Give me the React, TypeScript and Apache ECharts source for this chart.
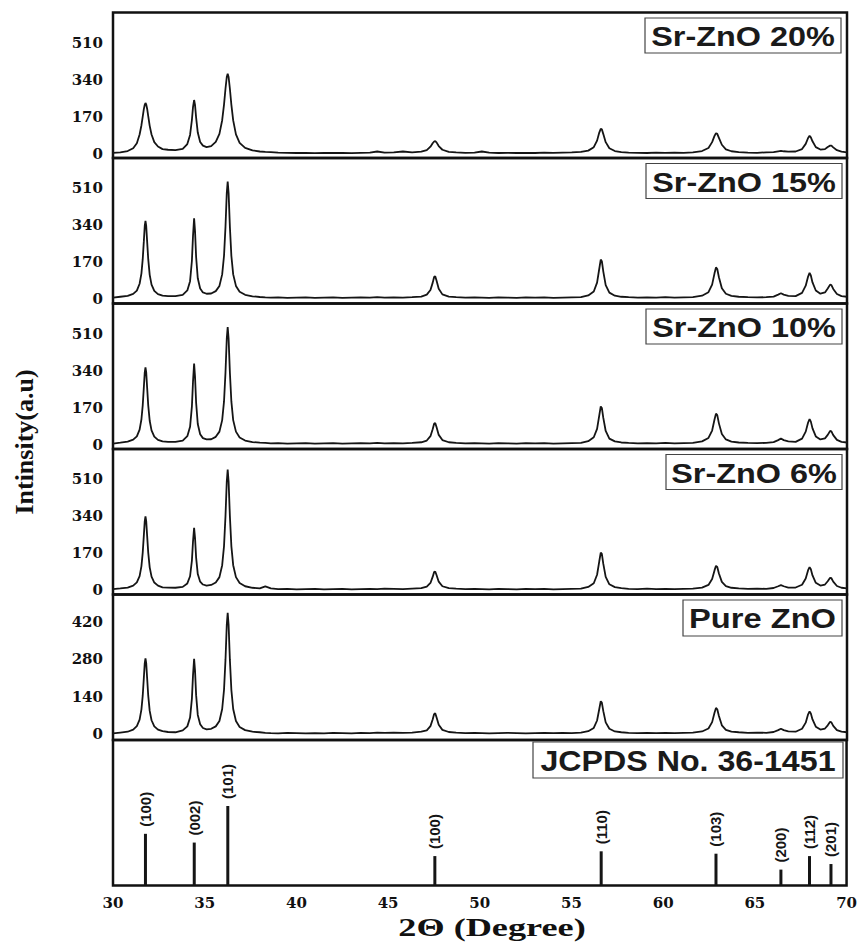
import React, { useEffect, useRef } from "react";
import * as echarts from "echarts";

// 2θ sampling grid shared by all measured patterns
const twoTheta = [
  30, 30.4, 30.8, 31.1, 31.3, 31.45, 31.55, 31.62, 31.68, 31.73,
  31.77, 31.81, 31.86, 31.92, 32.0, 32.1, 32.25, 32.45, 32.7, 33.0,
  33.4, 33.8, 34.05, 34.2, 34.3, 34.36, 34.42, 34.47, 34.53, 34.62,
  34.75, 34.9, 35.1, 35.35, 35.6, 35.8, 35.95, 36.05, 36.13, 36.2,
  36.25, 36.3, 36.37, 36.45, 36.55, 36.7, 36.9, 37.2, 37.6, 38.0,
  38.3, 38.6, 39.0, 39.5, 40.0, 40.5, 41.0, 41.5, 42.0, 42.5,
  43.0, 43.5, 44.0, 44.4, 44.8, 45.3, 45.8, 46.3, 46.8, 47.1,
  47.3, 47.42, 47.5, 47.56, 47.63, 47.75, 47.95, 48.3, 48.7, 49.2,
  49.7, 50.1, 50.5, 51.0, 51.5, 52.0, 52.5, 53.0, 53.5, 54.0,
  54.5, 55.0, 55.5, 55.9, 56.2, 56.38, 56.5, 56.58, 56.64, 56.72,
  56.85, 57.05, 57.35, 57.7, 58.1, 58.6, 59.1, 59.6, 60.1, 60.6,
  61.1, 61.6, 62.1, 62.45, 62.65, 62.78, 62.86, 62.93, 63.02, 63.18,
  63.4, 63.7, 64.1, 64.6, 65.1, 65.6, 66.0, 66.25, 66.4, 66.55,
  66.8, 67.2, 67.55, 67.75, 67.88, 67.96, 68.03, 68.12, 68.3, 68.55,
  68.8, 68.95, 69.08, 69.15, 69.25, 69.45, 69.7, 70.0,
];

const srZnO20 = [
  4, 6, 12, 25, 48, 88, 131, 171, 205, 225,
  233, 227, 207, 173, 128, 88, 53, 33, 21, 18,
  16, 22, 44, 86, 155, 214, 247, 224, 166, 97,
  54, 37, 30, 35, 54, 91, 154, 226, 299, 353,
  368, 353, 299, 226, 153, 89, 50, 27, 15, 10,
  8, 7, 5, 4, 3, 4, 2, 3, 4, 3,
  2, 4, 5, 10, 5, 6, 10, 6, 9, 16,
  32, 48, 56, 58, 52, 35, 18, 8, 6, 4,
  5, 10, 5, 3, 4, 3, 4, 3, 5, 4,
  5, 6, 8, 14, 30, 60, 97, 114, 112, 90,
  53, 25, 12, 7, 5, 4, 3, 5, 4, 5,
  4, 6, 12, 26, 53, 82, 94, 91, 73, 41,
  20, 11, 7, 5, 4, 6, 7, 11, 13, 11,
  9, 10, 21, 45, 72, 82, 75, 57, 30, 19,
  21, 31, 37, 37, 29, 16, 9, 6,
];

const srZnO15 = [
  7, 11, 15, 24, 39, 71, 119, 184, 266, 337,
  360, 337, 266, 184, 112, 67, 38, 23, 16, 14,
  14, 20, 40, 83, 177, 291, 372, 314, 194, 96,
  49, 31, 25, 26, 37, 61, 114, 200, 333, 489,
  542, 489, 333, 200, 114, 61, 34, 20, 13, 10,
  8, 7, 8, 6, 7, 8, 6, 7, 8, 6,
  7, 8, 7, 9, 7, 8, 7, 9, 12, 21,
  42, 75, 102, 106, 86, 48, 22, 12, 9, 7,
  8, 7, 6, 8, 7, 6, 8, 7, 8, 6,
  7, 8, 9, 17, 35, 76, 140, 182, 175, 127,
  65, 30, 16, 11, 9, 7, 8, 7, 9, 7,
  8, 9, 16, 32, 67, 119, 146, 139, 101, 50,
  25, 15, 11, 9, 8, 9, 12, 21, 27, 21,
  15, 14, 29, 62, 104, 121, 109, 77, 40, 25,
  31, 49, 67, 65, 47, 24, 14, 11,
];

const srZnO10 = [
  5, 9, 14, 23, 38, 69, 117, 181, 263, 333,
  356, 333, 263, 181, 110, 66, 37, 22, 15, 13,
  13, 19, 39, 82, 176, 290, 374, 313, 193, 95,
  48, 30, 24, 25, 36, 60, 113, 199, 332, 488,
  541, 488, 332, 199, 113, 60, 33, 19, 12, 9,
  8, 6, 7, 5, 6, 7, 5, 6, 7, 5,
  6, 7, 6, 8, 6, 7, 6, 8, 11, 19,
  39, 71, 96, 100, 81, 45, 21, 11, 8, 6,
  7, 6, 5, 7, 6, 5, 7, 6, 7, 5,
  6, 7, 8, 16, 34, 73, 135, 176, 169, 123,
  63, 28, 15, 10, 8, 6, 7, 6, 8, 6,
  7, 8, 15, 31, 65, 116, 143, 136, 98, 49,
  24, 14, 10, 8, 7, 8, 12, 21, 28, 21,
  15, 13, 28, 60, 102, 118, 106, 75, 38, 24,
  29, 45, 63, 61, 44, 22, 13, 10,
];

const srZnO6 = [
  5, 8, 12, 21, 36, 65, 111, 173, 251, 318,
  340, 318, 251, 173, 105, 62, 35, 21, 13, 12,
  11, 15, 31, 64, 136, 224, 287, 241, 150, 74,
  39, 26, 21, 24, 35, 60, 115, 203, 341, 500,
  555, 500, 341, 203, 115, 60, 33, 18, 11, 8,
  17, 8, 5, 6, 4, 5, 6, 4, 5, 6,
  4, 5, 6, 5, 7, 6, 5, 7, 9, 16,
  33, 61, 83, 86, 70, 39, 18, 9, 7, 5,
  6, 5, 4, 6, 5, 4, 6, 5, 6, 4,
  5, 6, 7, 15, 32, 71, 133, 173, 167, 121,
  61, 27, 14, 9, 6, 5, 7, 5, 6, 5,
  6, 7, 12, 24, 51, 91, 112, 107, 77, 38,
  19, 11, 8, 6, 7, 6, 10, 18, 23, 18,
  12, 12, 25, 54, 92, 106, 96, 68, 34, 21,
  26, 41, 57, 55, 39, 19, 11, 8,
];

const pureZnO = [
  3, 6, 9, 17, 30, 54, 93, 144, 210, 266,
  284, 266, 210, 144, 87, 52, 29, 17, 11, 8,
  7, 14, 29, 62, 133, 220, 282, 238, 146, 72,
  37, 23, 18, 20, 29, 49, 94, 166, 278, 409,
  454, 409, 278, 166, 94, 49, 27, 15, 9, 7,
  5, 4, 3, 5, 4, 3, 4, 3, 5, 4,
  3, 5, 4, 6, 5, 6, 5, 6, 9, 14,
  30, 55, 75, 78, 63, 35, 16, 8, 6, 4,
  5, 4, 3, 4, 5, 4, 3, 4, 5, 4,
  5, 4, 6, 11, 23, 51, 94, 123, 118, 86,
  44, 20, 10, 7, 5, 4, 5, 4, 5, 4,
  5, 6, 10, 21, 45, 80, 98, 93, 68, 33,
  16, 9, 7, 5, 6, 5, 8, 15, 20, 15,
  10, 9, 20, 43, 74, 85, 77, 55, 28, 17,
  21, 33, 46, 44, 31, 15, 9, 7,
];

// JCPDS No. 36-1451 reference lines
const jcpdsPos = [31.77, 34.43, 36.26, 47.55, 56.62, 62.88, 66.42, 67.98, 69.15];
const jcpdsInt = [65, 54, 100, 37, 43, 40, 20, 37, 27];
const jcpdsHkl = ["(100)", "(002)", "(101)", "(100)", "(110)", "(103)", "(200)", "(112)", "(201)"];

const panelNames = ["Sr-ZnO 20%", "Sr-ZnO 15%", "Sr-ZnO 10%", "Sr-ZnO 6%", "Pure ZnO", "JCPDS No. 36-1451"];
const ticksSr = [0, 170, 340, 510];
const ticksPure = [0, 140, 280, 420];
const xTicks = [30, 35, 40, 45, 50, 55, 60, 65, 70];

export default function App() {
  const ref = useRef<HTMLDivElement>(null);

  useEffect(() => {
    document.body.style.margin = "0";
    const chart = echarts.init(ref.current!, null, { renderer: "svg" });

    const series = [srZnO20, srZnO15, srZnO10, srZnO6, pureZnO];
    const yRanges = [
      [-20, 650],
      [-20, 650],
      [-20, 650],
      [-20, 650],
      [-22, 523],
      [0, 183],
    ];
    const top0 = 12.5;
    const ph = 145.5;
    const left = 113;
    const width = 734;

    const tickFont = {
      fontFamily: "DejaVu Serif",
      fontWeight: "bold" as const,
      fontSize: 15,
      color: "#111",
    };

    const grids = [];
    const xAxes = [];
    const yAxes = [];
    for (let k = 0; k < 6; k++) {
      grids.push({
        left,
        width,
        top: top0 + k * ph,
        height: ph,
        show: true,
        borderColor: "#111",
        borderWidth: 2.5,
        backgroundColor: "transparent",
      });
      xAxes.push({
        gridIndex: k,
        type: "value",
        min: xTicks[0],
        max: xTicks[xTicks.length - 1],
        interval: 5,
        axisLine: { show: false },
        axisTick: { show: false },
        splitLine: { show: false },
        axisLabel: { show: k === 5, margin: 10, ...tickFont },
      });
      yAxes.push({
        gridIndex: k,
        type: "value",
        min: yRanges[k][0],
        max: yRanges[k][1],
        axisLine: { show: false },
        axisTick: { show: false },
        splitLine: { show: false },
        axisLabel: {
          show: k < 5,
          margin: 10,
          customValues: k === 4 ? ticksPure : ticksSr,
          ...tickFont,
        },
      });
    }

    const seriesList: any[] = series.map((ys, k) => ({
      type: "line",
      xAxisIndex: k,
      yAxisIndex: k,
      data: twoTheta.map((x, i) => [x, ys[i]]),
      showSymbol: false,
      symbol: "none",
      lineStyle: { color: "#151515", width: 1.8 },
      clip: true,
      silent: true,
    }));

    seriesList.push({
      type: "bar",
      xAxisIndex: 5,
      yAxisIndex: 5,
      barWidth: 3,
      data: jcpdsPos.map((x, i) => [x, jcpdsInt[i]]),
      itemStyle: { color: "#151515" },
      label: {
        show: true,
        position: "top",
        rotate: 90,
        align: "left",
        verticalAlign: "middle",
        distance: 7,
        fontFamily: "Liberation Sans",
        fontWeight: "bold",
        fontSize: 15,
        color: "#151515",
        formatter: (p: any) => jcpdsHkl[p.dataIndex],
      },
      silent: true,
    });

    const boxes = [
      { x: 645, y: 18, w: 196, h: 35, fs: 27, sx: 1.2 },
      { x: 646, y: 163.5, w: 196, h: 35, fs: 27, sx: 1.2 },
      { x: 646, y: 309, w: 196, h: 35, fs: 27, sx: 1.2 },
      { x: 666, y: 454.5, w: 176, h: 35, fs: 27, sx: 1.2 },
      { x: 683, y: 600, w: 159, h: 36, fs: 27, sx: 1.21 },
      { x: 533, y: 742, w: 310, h: 36, fs: 29, sx: 1.11 },
    ];

    const graphics: any[] = [];
    boxes.forEach((b, i) => {
      graphics.push({
        type: "rect",
        shape: { x: b.x, y: b.y, width: b.w, height: b.h },
        style: { fill: "#fff", stroke: "#444", lineWidth: 1.2 },
        z: 10,
      });
      graphics.push({
        type: "text",
        x: b.x + b.w / 2,
        y: b.y + b.h / 2 + 1,
        scaleX: b.sx,
        style: {
          text: panelNames[i],
          fontFamily: "Liberation Sans",
          fontWeight: "bold",
          fontSize: b.fs,
          fill: "#1a1a1a",
          align: "center",
          verticalAlign: "middle",
        },
        z: 11,
      });
    });

    graphics.push({
      type: "text",
      x: 24,
      y: 442,
      rotation: Math.PI / 2,
      style: {
        text: "Intinsity(a.u)",
        fontFamily: "Liberation Serif",
        fontWeight: "bold",
        fontSize: 26,
        fill: "#111",
        align: "center",
        verticalAlign: "middle",
      },
    });
    graphics.push({
      type: "text",
      x: 492,
      y: 928,
      scaleX: 1.45,
      style: {
        text: "2\u0398 (Degree)",
        fontFamily: "Liberation Serif",
        fontWeight: "bold",
        fontSize: 25,
        fill: "#111",
        align: "center",
        verticalAlign: "middle",
      },
    });

    chart.setOption({
      animation: false,
      backgroundColor: "#fff",
      grid: grids,
      xAxis: xAxes,
      yAxis: yAxes,
      series: seriesList,
      graphic: { elements: graphics },
    });

    return () => chart.dispose();
  }, []);

  return <div ref={ref} style={{ width: 860, height: 945 }} />;
}
